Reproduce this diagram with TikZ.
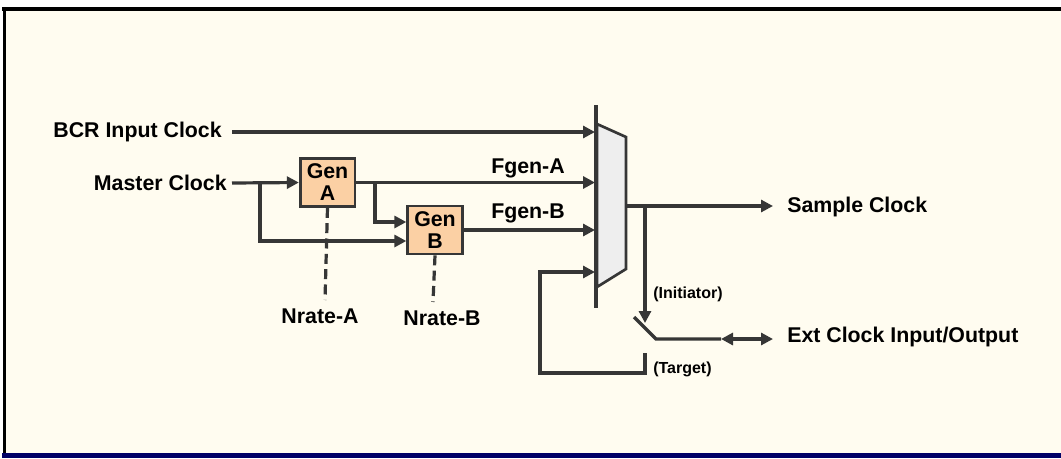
\documentclass[tikz,border=0pt]{standalone}
\usepackage{fontspec}
\setmainfont{Liberation Sans}
\usetikzlibrary{arrows.meta,positioning}

\definecolor{paper}{HTML}{FFFCF0}
\definecolor{wire}{HTML}{363636}
\definecolor{genfill}{HTML}{FBD0A4}
\definecolor{muxfill}{HTML}{EEEEEE}
\definecolor{navyrule}{HTML}{000066}

\begin{document}
\begin{tikzpicture}[
  x=0.75pt, y=-0.75pt,
  font=\bfseries\fontsize{16}{16.5}\selectfont,
  wirestyle/.style={draw=wire, line width=2.4pt},
  flow/.style={wirestyle, -{Triangle[length=9pt, width=9pt]}},
  bidir/.style={wirestyle, {Triangle[length=9pt, width=9pt]}-{Triangle[length=9pt, width=9pt]}},
  ratelink/.style={wirestyle, dash pattern=on 7.5pt off 4pt},
  genbox/.style={draw=wire, line width=2pt, fill=genfill, align=center,
    inner sep=0pt, minimum width=41pt, minimum height=36pt},
  lbl/.style={inner sep=0pt},
  note/.style={inner sep=0pt, font=\bfseries\fontsize{12}{13}\selectfont}
]
\useasboundingbox (0,0) rectangle (1061,458);
% frame
\fill[paper] (3,9) rectangle (1061,455);
\draw[black, line width=3pt] (2,9) -- (1061,9);
\draw[black, line width=2.25pt] (4,9) -- (4,455);
\draw[navyrule, line width=3.75pt] (2,455.5) -- (1061,455.5);

% generators
\node[genbox] (genA) at (327.5,182.5) {Gen\\A};
\node[genbox] (genB) at (435,230) {Gen\\B};

% labels
\node[lbl, anchor=east] (bcr) at (222,132) {BCR Input Clock};
\node[lbl, anchor=east] (master) at (227,183) {Master Clock};
\node[lbl] (fgenA) at (528,168) {Fgen-A};
\node[lbl] (fgenB) at (528,213) {Fgen-B};
\node[lbl] (nrateA) at (320,316) {Nrate-A};
\node[lbl] (nrateB) at (442,318) {Nrate-B};
\node[lbl, anchor=west] (sample) at (787,207) {Sample Clock};
\node[lbl, anchor=west] (ext) at (787,337) {Ext Clock Input/Output};
\node[note, anchor=west] (initiator) at (653,294) {(Initiator)};
\node[note, anchor=west] (target) at (653,369) {(Target)};

% multiplexer
\coordinate (muxN) at (596,105);
\coordinate (muxS) at (596,308);
\coordinate (muxL) at (595,0);
\coordinate (muxout) at (626,206);
\filldraw[fill=muxfill, draw=wire, line width=2pt]
  (597,124) -- (626,137) -- (626,269) -- (597,287) -- cycle;
\draw[wirestyle] (muxN) -- (muxS);

% switch and taps
\coordinate (tapM) at (260,183);
\coordinate (tapA) at (375,182.5);
\coordinate (tapS) at (645,206);
\coordinate (swA) at (634,317);
\coordinate (swB) at (656,339);
\coordinate (ioL) at (721,339);
\coordinate (tgt) at (645,353);
\coordinate (fbk) at (540,272);
\coordinate (rateA) at (325,300);
\coordinate (rateB) at (433,302);

\draw[flow] ([xshift=7.5pt]bcr.east |- 0,132) -- (muxL |- 0,132);
\draw[flow] ([xshift=3.75pt]master.east) -- (genA.west);
\draw[flow] (tapM) |- ([yshift=-8.25pt]genB.west);
\draw[flow] (genA.east) -- (genA.east -| muxL);
\draw[flow] (tapA) |- ([yshift=6pt]genB.west);
\draw[flow] (genB.east) -- (genB.east -| muxL);
\draw[ratelink] (genA.south) -- (rateA);
\draw[ratelink] (genB.south) -- (rateB);
\draw[flow] (muxout) -- ([xshift=-10.5pt]sample.west |- muxout);
\draw[flow] (tapS) -- (645,323);
\draw[wirestyle] (swA) -- (swB) -- (ioL);
\draw[bidir] (ioL) -- ([xshift=-10.5pt]ext.west |- ioL);
\draw[flow] (tgt) -- (645,373) -| (fbk) -- (muxL |- fbk);
\end{tikzpicture}
\end{document}
